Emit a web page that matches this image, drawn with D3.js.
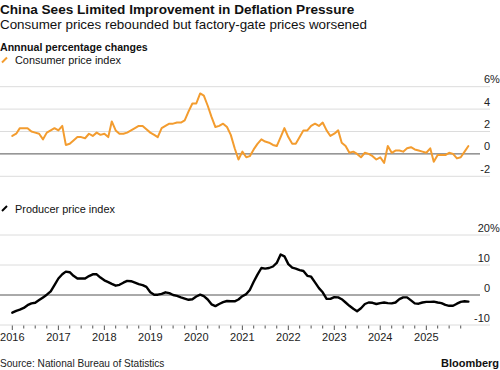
<!DOCTYPE html>
<html>
<head>
<meta charset="utf-8">
<script src="https://cdn.jsdelivr.net/npm/d3@7"></script>
<style>
  body { margin: 0; background: #fff; }
  svg { font-family: "Liberation Sans", Arial, sans-serif; }
</style>
</head>
<body>
<svg id="chart" width="500" height="370"></svg>
<script>
// Monthly readings, Dec 2015 .. Nov 2025 (year-on-year %)
const firstMonth = new Date(2015, 11, 1);

const cpiValues = [
  1.6,
  1.8, 2.3, 2.3, 2.3, 2.0, 1.9, 1.8, 1.3, 1.9, 2.1, 2.3, 2.1,
  2.5, 0.8, 0.9, 1.2, 1.5, 1.5, 1.4, 1.8, 1.6, 1.9, 1.7, 1.8,
  1.5, 2.9, 2.1, 1.8, 1.8, 1.9, 2.1, 2.3, 2.5, 2.5, 2.2, 1.9,
  1.7, 1.5, 2.3, 2.5, 2.7, 2.7, 2.8, 2.8, 3.0, 3.8, 4.5, 4.5,
  5.4, 5.2, 4.3, 3.3, 2.4, 2.5, 2.7, 2.4, 1.7, 0.5, -0.5, 0.2,
  -0.3, -0.2, 0.4, 0.9, 1.3, 1.1, 1.0, 0.8, 0.7, 1.5, 2.3, 1.5,
  0.9, 0.9, 1.5, 2.1, 2.1, 2.5, 2.7, 2.5, 2.8, 2.1, 1.6, 1.8,
  2.1, 1.0, 0.7, 0.1, 0.2, 0.0, -0.3, 0.1, 0.0, -0.2, -0.5, -0.3,
  -0.8, 0.7, 0.1, 0.3, 0.3, 0.2, 0.5, 0.6, 0.4, 0.3, 0.2, 0.1,
  0.5, -0.7, -0.1, -0.1, -0.1, 0.1, 0.0, -0.4, -0.3, 0.2, 0.7
];

const ppiValues = [
  -5.9,
  -5.3, -4.9, -4.3, -3.4, -2.8, -2.6, -1.7, -0.8, 0.1, 1.2, 3.3, 5.5,
  6.9, 7.8, 7.6, 6.4, 5.5, 5.5, 5.5, 6.3, 6.9, 6.9, 5.8, 4.9,
  4.3, 3.7, 3.1, 3.4, 4.1, 4.7, 4.6, 4.1, 3.6, 3.3, 2.7, 0.9,
  0.1, 0.1, 0.4, 0.9, 0.6, 0.0, -0.3, -0.8, -1.2, -1.6, -1.4, -0.5,
  0.1, -0.4, -1.5, -3.1, -3.7, -3.0, -2.4, -2.0, -2.1, -2.1, -1.5, -0.4,
  0.3, 1.7, 4.4, 6.8, 9.0, 8.8, 9.0, 9.5, 10.7, 13.5, 12.9, 10.3,
  9.1, 8.8, 8.3, 8.0, 6.4, 6.1, 4.2, 2.3, 0.9, -1.3, -1.3, -0.7,
  -0.8, -1.4, -2.5, -3.6, -4.6, -5.4, -4.4, -3.0, -2.5, -2.6, -3.0, -2.7,
  -2.5, -2.7, -2.8, -2.5, -1.4, -0.8, -0.8, -1.8, -2.8, -2.9, -2.5, -2.3,
  -2.3, -2.2, -2.5, -2.7, -3.3, -3.6, -3.6, -2.9, -2.3, -2.1, -2.2
];

const cpiTicks = [-2, 0, 2, 4, 6];
const ppiTicks = [-10, 0, 10, 20];
const yearLabels = ["2016", "2017", "2018", "2019", "2020", "2021", "2022", "2023", "2024", "2025"];

const ORANGE = "#f39c2f";
const GRID = "#dcdcdc";

const svg = d3.select("#chart");

// each reading is plotted at the end of its month
const toPoints = (values) =>
  values.map((v, i) => ({ date: d3.timeMonth.offset(firstMonth, i + 1), value: v }));

const x = d3.scaleTime()
  .domain([new Date(2016, 0, 1), new Date(2026, 0, 1)])
  .range([12.3, 472.3]);

const yCpi = d3.scaleLinear().domain([-2, 6]).range([176.3, 86.7]);
const yPpi = d3.scaleLinear().domain([-10, 20]).range([325, 235]);

// Titles
svg.append("text")
  .attr("x", 0).attr("y", 13.5)
  .attr("font-size", 13.6).attr("font-weight", "bold").attr("fill", "#111")
  .text("China Sees Limited Improvement in Deflation Pressure");

svg.append("text")
  .attr("x", 0).attr("y", 29)
  .attr("font-size", 13.4).attr("fill", "#111")
  .text("Consumer prices rebounded but factory-gate prices worsened");

svg.append("text")
  .attr("x", 0).attr("y", 50.5)
  .attr("font-size", 10.6).attr("font-weight", "bold").attr("fill", "#111")
  .text("Annnual percentage changes");

const drawLegend = (y, color, label) => {
  svg.append("line")
    .attr("x1", 2).attr("y1", y + 2.5)
    .attr("x2", 7).attr("y2", y - 2.5)
    .attr("stroke", color).attr("stroke-width", 2);
  svg.append("text")
    .attr("x", 15).attr("y", y + 4)
    .attr("font-size", 10.9).attr("fill", "#111")
    .text(label);
};

const drawPanel = (y, ticks, points, color, width, suffix) => {
  const g = svg.append("g");

  // gridlines, zero line drawn dark
  g.selectAll(".grid")
    .data(ticks.filter(t => t !== 0))
    .join("line")
    .attr("class", "grid")
    .attr("x1", 0).attr("x2", 490)
    .attr("y1", d => y(d)).attr("y2", d => y(d))
    .attr("stroke", GRID).attr("stroke-width", 1);

  // value labels sit just above their gridline
  g.selectAll(".ylab")
    .data(ticks)
    .join("text")
    .attr("class", "ylab")
    .attr("y", d => y(d) - 3.5)
    .attr("font-size", 11).attr("fill", "#222")
    .text(d => d)
    .each(function (d) {
      if (d === d3.max(ticks)) {
        // keep the number right-aligned, let "%" hang past it
        d3.select(this).append("tspan").text(suffix);
        const w = this.getComputedTextLength();
        const pw = this.lastChild.getComputedTextLength();
        d3.select(this).attr("x", 490 - (w - pw));
      } else {
        d3.select(this).attr("x", 490 - this.getComputedTextLength());
      }
    });

  g.append("line")
    .attr("x1", 0).attr("x2", 480)
    .attr("y1", y(0)).attr("y2", y(0))
    .attr("stroke", "#555").attr("stroke-width", 1);

  g.append("path")
    .datum(points)
    .attr("fill", "none")
    .attr("stroke", color)
    .attr("stroke-width", width)
    .attr("stroke-linejoin", "round")
    .attr("stroke-linecap", "round")
    .attr("d", d3.line().x(d => x(d.date)).y(d => y(d.value)));
};

drawLegend(60, ORANGE, "Consumer price index");
drawPanel(yCpi, cpiTicks, toPoints(cpiValues), ORANGE, 2, "%");

drawLegend(208.5, "#000", "Producer price index");
drawPanel(yPpi, ppiTicks, toPoints(ppiValues), "#000", 2.4, "%");

// Time axis: quarterly ticks, year labels
const quarters = d3.timeMonth.every(3).range(new Date(2016, 0, 1), new Date(2026, 0, 1));
const axisY = yPpi(-10);

svg.append("g")
  .selectAll("line")
  .data(quarters)
  .join("line")
  .attr("x1", d => x(d)).attr("x2", d => x(d))
  .attr("y1", axisY + 0.5)
  .attr("y2", d => axisY + (d.getMonth() === 0 ? 5 : 3.5))
  .attr("stroke", "#555").attr("stroke-width", 1);

svg.append("g")
  .selectAll("text")
  .data(yearLabels)
  .join("text")
  .attr("x", d => x(new Date(+d, 0, 1)))
  .attr("y", 341)
  .attr("text-anchor", "middle")
  .attr("font-size", 11).attr("fill", "#222")
  .text(d => d);

// Footer
svg.append("text")
  .attr("x", 0).attr("y", 367)
  .attr("font-size", 10.1).attr("fill", "#222")
  .text("Source: National Bureau of Statistics");

svg.append("text")
  .attr("x", 499).attr("y", 367)
  .attr("text-anchor", "end")
  .attr("font-size", 11).attr("font-weight", "bold").attr("fill", "#111")
  .text("Bloomberg");
</script>
</body>
</html>
